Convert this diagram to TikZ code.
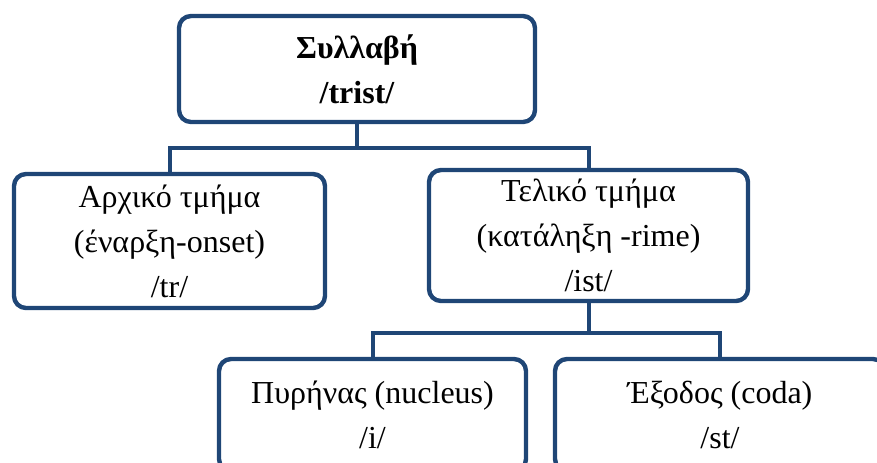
\documentclass[tikz,border=0pt]{standalone}
\usepackage{fontspec}
\setmainfont{Liberation Serif}
\usepackage{xcolor}
\definecolor{bordoblu}{RGB}{31,70,118}

\begin{document}
\begin{tikzpicture}[x=0.5pt,y=-0.5pt]

% Stili per i riquadri e i rami
\tikzset{
  riquadro/.style={draw=bordoblu, line width=2.2pt, rounded corners=6pt,
    align=center, inner sep=0pt, font=\fontsize{16}{22.5}\selectfont},
  ramo/.style={draw=bordoblu, line width=2pt}
}

\useasboundingbox (0,0) rectangle (877,462);

% --- Livello superiore: sillaba ---
\node[riquadro, minimum width=178pt, minimum height=53pt,
  font=\fontsize{16}{22.5}\selectfont\bfseries] (sillaba) at (357,69) {Συλλαβή\\/trist/};

% --- Livello intermedio: attacco e rima ---
\node[riquadro, minimum width=155.5pt, minimum height=67pt] (attacco) at (169.5,241)
  {Αρχικό τμήμα\\(έναρξη-onset)\\/tr/};
\node[riquadro, minimum width=159.5pt, minimum height=65.5pt] (rima) at (588.5,235.5)
  {Τελικό τμήμα\\(κατάληξη -rime)\\/ist/};

% --- Livello inferiore: nucleo e coda ---
\node[riquadro, minimum width=153.5pt, minimum height=56pt] (nucleo) at (372.5,415)
  {Πυρήνας (nucleus)\\/i/};
\node[riquadro, minimum width=165pt, minimum height=56pt] (coda) at (720,415)
  {Έξοδος (coda)\\/st/};

% Rami
\path (sillaba.south) ++(0,24) coordinate (forcasup);
\draw[ramo] (sillaba.south) -- (forcasup) -| (attacco.north);
\draw[ramo] (forcasup) -| (rima.north);

\path (rima.south) ++(0,30) coordinate (forcainf);
\draw[ramo] (rima.south) -- (forcainf) -| (nucleo.north);
\draw[ramo] (forcainf) -| (coda.north);

\end{tikzpicture}
\end{document}
